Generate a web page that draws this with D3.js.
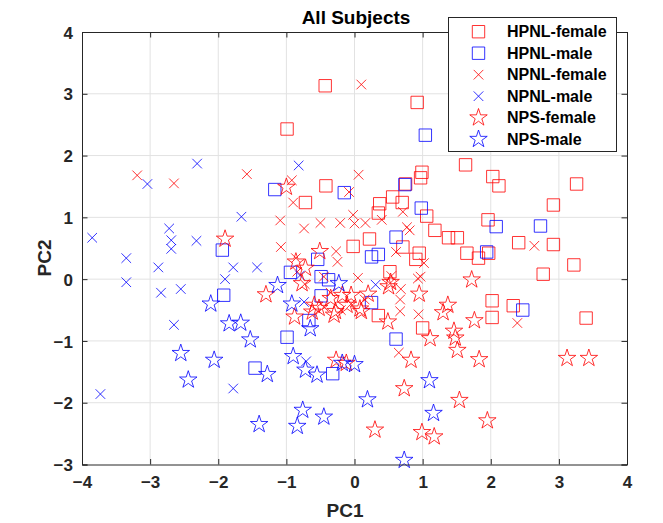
<!DOCTYPE html>
<html><head><meta charset="utf-8">
<script src="https://cdn.jsdelivr.net/npm/d3@7"></script>
<style>
body{margin:0;background:#fff}
svg text{font-family:"Liberation Sans",Arial,Helvetica,sans-serif;font-weight:bold}
</style>
</head><body>
<svg id="chart" width="663" height="523"></svg>
<script>
// ---------------- data ----------------
const hpnlFemale = [[-0.43,3.13],[0.92,2.86],[-0.99,2.43],[1.63,1.85],[2.03,1.66],[2.12,1.51],[3.26,1.54],[-0.42,1.51],[0.99,1.73],[0.97,1.64],[0.75,1.54],[0.56,1.33],[0.37,1.22],[0.70,1.24],[0.35,1.07],[-0.72,1.24],[1.06,1.02],[2.92,1.20],[1.96,0.96],[1.18,0.79],[1.38,0.67],[1.51,0.67],[0.22,0.65],[-0.02,0.53],[0.71,0.52],[2.41,0.59],[2.92,0.56],[0.95,0.42],[0.90,0.32],[1.65,0.42],[1.82,0.34],[1.97,0.42],[3.22,0.23],[2.77,0.08],[0.52,0.12],[2.02,-0.35],[2.33,-0.43],[2.02,-0.62],[3.40,-0.63],[0.35,-0.59],[1.00,-0.79]];
const hpnlMale = [[1.04,2.33],[-1.17,1.45],[-0.15,1.40],[0.74,1.53],[0.98,1.15],[2.08,0.85],[2.73,0.86],[0.61,0.68],[0.25,0.36],[0.35,0.40],[1.94,0.44],[-1.94,0.47],[-0.54,0.32],[-0.94,0.11],[-0.49,0.04],[-0.38,-0.01],[-1.92,-0.26],[-0.49,-0.27],[0.25,-0.38],[2.47,-0.50],[-0.67,-0.67],[-0.99,-0.94],[0.61,-0.97],[-1.46,-1.44],[-0.32,-1.53]];
const npnlFemale = [[0.10,3.15],[-3.19,1.68],[-2.65,1.55],[-1.58,1.70],[-0.92,1.60],[0.06,1.69],[-0.08,1.41],[-0.90,1.24],[0.71,1.09],[-1.09,0.95],[-0.74,0.82],[-0.50,0.91],[-0.21,0.91],[-0.02,1.04],[0.00,0.90],[0.16,0.91],[0.40,0.96],[0.77,0.84],[0.81,0.79],[-1.08,0.52],[2.64,0.54],[0.61,0.44],[-0.27,0.45],[-0.25,0.28],[-0.86,0.34],[1.02,0.26],[-0.45,0.04],[0.05,0.02],[0.97,0.04],[0.54,0.05],[0.52,-0.07],[0.68,-0.16],[0.67,-0.33],[0.67,-0.52],[0.94,-0.57],[2.39,-0.71],[0.65,-1.19],[-0.84,0.12],[-0.73,-0.08],[-0.35,-0.22],[-0.05,-0.40],[0.15,-0.33],[-0.45,-0.45],[-0.20,-0.50],[0.93,0.01]];
const npnlMale = [[-2.31,1.87],[-0.82,1.84],[-3.04,1.54],[-1.66,1.01],[-3.85,0.67],[-2.72,0.82],[-2.69,0.63],[-2.69,0.49],[-2.32,0.62],[-3.35,0.34],[-2.88,0.19],[-1.78,0.19],[-1.43,0.19],[-1.90,0.00],[-3.35,-0.05],[-2.84,-0.22],[-2.55,-0.16],[-2.65,-0.74],[-1.78,-1.77],[-3.73,-1.86],[-0.80,0.06],[-0.74,-0.37],[0.31,-0.09],[-0.71,-1.33]];
const npsFemale = [[-1.00,1.49],[-1.90,0.65],[-0.51,0.45],[-0.86,0.28],[-0.72,0.18],[1.72,-0.01],[-1.30,-0.25],[0.95,-0.24],[0.53,-0.05],[0.50,-0.12],[1.37,-0.42],[1.30,-0.54],[1.76,-0.67],[0.49,-0.69],[-0.88,-0.61],[-0.30,-0.58],[1.46,-0.84],[1.48,-0.95],[1.11,-0.96],[1.51,-1.15],[0.83,-1.31],[1.83,-1.30],[3.12,-1.28],[3.44,-1.28],[0.73,-1.77],[1.54,-1.96],[1.95,-2.29],[0.30,-2.44],[0.99,-2.48],[1.17,-2.55],[-0.27,-1.31],[-0.12,-1.36],[-0.77,-0.07],[-0.62,-0.53],[-0.52,-0.47],[-0.35,-0.31],[-0.28,-0.52],[-0.18,-0.26],[-0.11,-0.42],[-0.05,-0.26],[0.08,-0.48],[0.20,-0.24],[-0.59,-0.42],[0.10,-0.52]];
const npsMale = [[-2.11,-0.40],[-1.84,-0.72],[-1.67,-0.71],[-1.53,-0.98],[-2.55,-1.20],[-2.06,-1.31],[-1.28,-1.54],[-2.44,-1.63],[-1.40,-2.35],[-1.13,-0.10],[-0.23,-0.07],[-0.92,-0.40],[-0.65,-0.80],[-0.90,-1.25],[-0.72,-1.47],[-0.55,-1.55],[-0.18,-1.36],[0.00,-1.38],[0.19,-1.95],[1.10,-1.64],[1.16,-2.17],[0.73,-2.93],[-0.76,-2.12],[-0.84,-2.38],[-0.45,-2.23]];

const seriesNames = ["HPNL-female","HPNL-male","NPNL-female","NPNL-male","NPS-female","NPS-male"];
const seriesData = [hpnlFemale,hpnlMale,npnlFemale,npnlMale,npsFemale,npsMale];
const seriesColors = ["#ff0000","#0000ff","#ff0000","#0000ff","#ff0000","#0000ff"];
const seriesShapes = ["square","square","x","x","star","star"];
const xTicks = [-4,-3,-2,-1,0,1,2,3,4];
const yTicks = [-3,-2,-1,0,1,2,3,4];
const titleText = "All Subjects";
const xLabel = "PC1", yLabel = "PC2";

// ---------------- drawing ----------------
const svg = d3.select("#chart");
const L = 82, R = 627, T = 32, B = 464.5;
const x = d3.scaleLinear().domain([-4,4]).range([L,R]);
const y = d3.scaleLinear().domain([-3,4]).range([B,T]);
const fmt = d => d < 0 ? "\u2212" + Math.abs(d) : String(d);
const axisCol = "#262626";

// grid
const grid = svg.append("g");
grid.selectAll(".gx").data(xTicks.slice(1,-1)).join("line")
  .attr("x1", d=>x(d)).attr("x2", d=>x(d)).attr("y1", T).attr("y2", B)
  .attr("stroke", "#e2e2e2").attr("stroke-width", 1);
grid.selectAll(".gy").data(yTicks.slice(1,-1)).join("line")
  .attr("y1", d=>y(d)).attr("y2", d=>y(d)).attr("x1", L).attr("x2", R)
  .attr("stroke", "#e2e2e2").attr("stroke-width", 1);

// marker paths
const starPath = d3.symbol(d3.symbolStar, 95)();
const shapePath = {
  square: "M-6.2,-6.2H6.2V6.2H-6.2Z",
  x: "M-4.8,-4.8L4.8,4.8M-4.8,4.8L4.8,-4.8",
  star: starPath
};

seriesData.forEach((data, i) => {
  svg.append("g").selectAll("path").data(data).join("path")
    .attr("transform", d => `translate(${x(d[0])},${y(d[1])})`)
    .attr("d", shapePath[seriesShapes[i]])
    .attr("fill", "none")
    .attr("stroke", seriesColors[i])
    .attr("stroke-opacity", 0.8)
    .attr("stroke-width", 1);
});

// axes
const tickLen = 5.5;
const gx = svg.append("g").attr("transform", `translate(0,${B})`)
  .call(d3.axisBottom(x).tickValues(xTicks).tickFormat(fmt).tickSize(-tickLen).tickPadding(11));
const gxt = svg.append("g").attr("transform", `translate(0,${T})`)
  .call(d3.axisTop(x).tickValues(xTicks).tickFormat("").tickSize(-tickLen));
const gy = svg.append("g").attr("transform", `translate(${L},0)`)
  .call(d3.axisLeft(y).tickValues(yTicks).tickFormat(fmt).tickSize(-tickLen).tickPadding(9));
const gyr = svg.append("g").attr("transform", `translate(${R},0)`)
  .call(d3.axisRight(y).tickValues(yTicks).tickFormat("").tickSize(-tickLen));
[gx,gxt,gy,gyr].forEach(g => {
  g.select(".domain").attr("stroke", axisCol).attr("stroke-width", 1);
  g.selectAll(".tick line").attr("stroke", axisCol);
  g.selectAll("text").attr("fill", axisCol).style("font-size","17px");
});
gy.selectAll("text").attr("dy","0.36em");

// title + labels
svg.append("text").attr("x", 356).attr("y", 24).attr("text-anchor","middle")
  .style("font-size","19px").attr("fill","#000").text(titleText);
svg.append("text").attr("x", 345).attr("y", 517).attr("text-anchor","middle")
  .style("font-size","19px").attr("fill",axisCol).text(xLabel);
svg.append("text").attr("transform","translate(51,258) rotate(-90)").attr("text-anchor","middle")
  .style("font-size","19px").attr("fill",axisCol).text(yLabel);

// legend
const lg = svg.append("g");
lg.append("rect").attr("x",448.5).attr("y",17.5).attr("width",168).attr("height",134)
  .attr("fill","#fff").attr("stroke",axisCol).attr("stroke-width",1);
const rowY = i => 31.7 + i*21.5;
seriesNames.forEach((name, i) => {
  lg.append("path").attr("transform", `translate(478.5,${rowY(i)})`)
    .attr("d", shapePath[seriesShapes[i]]).attr("fill","none")
    .attr("stroke", seriesColors[i]).attr("stroke-opacity",0.8).attr("stroke-width",1);
  lg.append("text").attr("x",507).attr("y",rowY(i)).attr("dy","0.36em")
    .style("font-size","16px").attr("fill","#000").text(name);
});
</script>
</body></html>
